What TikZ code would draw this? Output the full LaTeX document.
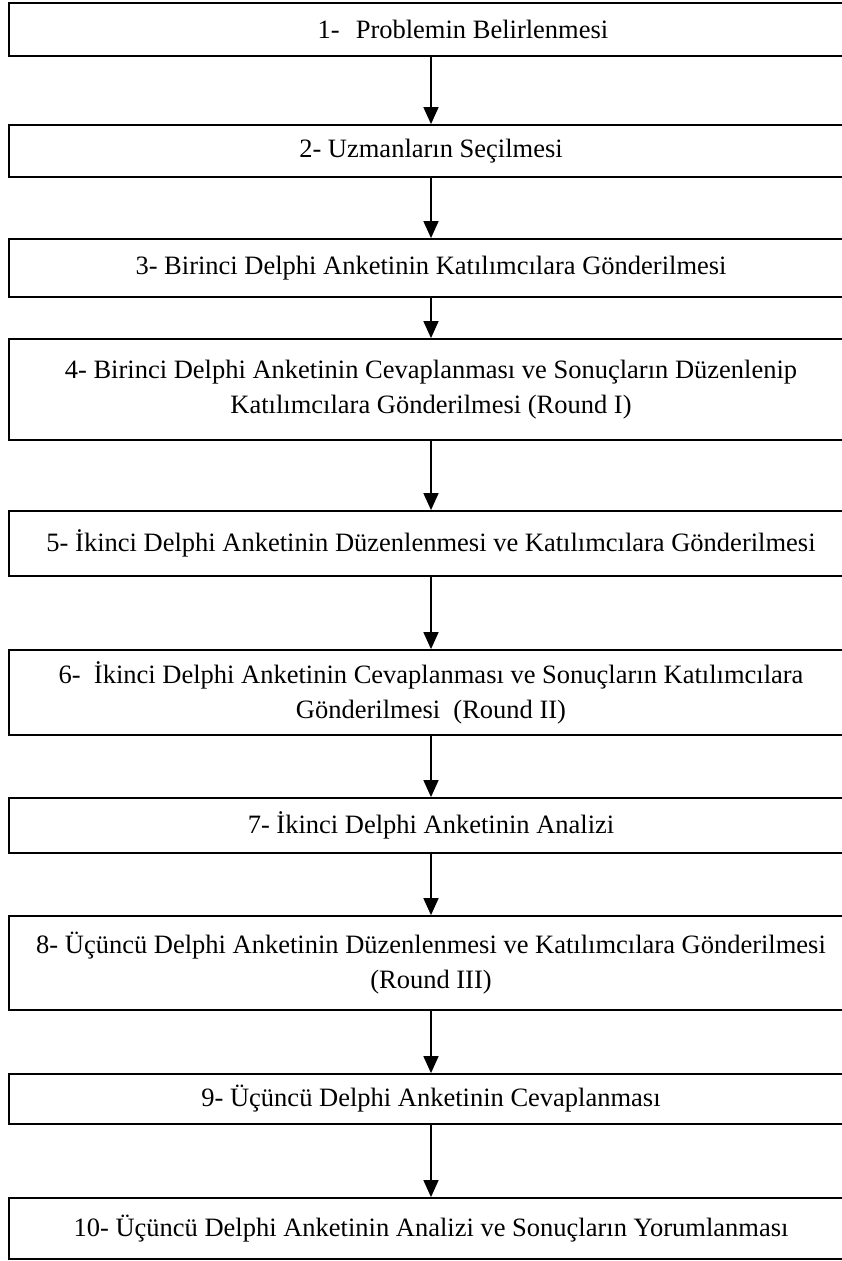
\documentclass[tikz,border=0pt]{standalone}
\usepackage{fontspec}
\setmainfont{Liberation Serif}
\usetikzlibrary{arrows.meta}
\begin{document}
\begin{tikzpicture}[x=1pt,y=-1pt,
  stepbox/.style={draw, line width=1.8pt, minimum width=844pt, inner sep=0pt,
    align=center, font=\fontsize{26.5pt}{35pt}\selectfont},
  flow/.style={line width=1.6pt, -{Triangle[width=15pt,length=17pt]}}]
\useasboundingbox (0,0) rectangle (842,1261);
\fill[white] (0,0) rectangle (842,1261);
\clip (0,0) rectangle (842,1261);

% the ten steps, top to bottom
\node[stepbox, minimum height=53pt] (s1) at (431,29.5)
  {\hspace*{64pt}1-\hspace{16pt}Problemin Belirlenmesi};
\node[stepbox, minimum height=52pt] (s2) at (431,151)
  {2- Uzmanların Seçilmesi};
\node[stepbox, minimum height=58pt] (s3) at (431,268)
  {3- Birinci Delphi Anketinin Katılımcılara Gönderilmesi};
\node[stepbox, minimum height=101pt] (s4) at (431,389.5)
  {4- Birinci Delphi Anketinin Cevaplanması ve Sonuçların Düzenlenip\\
   Katılımcılara Gönderilmesi (Round I)};
\node[stepbox, minimum height=65pt] (s5) at (431,543.5)
  {5- İkinci Delphi Anketinin Düzenlenmesi ve Katılımcılara Gönderilmesi};
\node[stepbox, minimum height=85pt] (s6) at (431,692.5)
  {6-\ \ İkinci Delphi Anketinin Cevaplanması ve Sonuçların Katılımcılara\\
   Gönderilmesi\ \ (Round II)};
\node[stepbox, minimum height=55pt] (s7) at (431,825.5)
  {7- İkinci Delphi Anketinin Analizi};
\node[stepbox, minimum height=94pt] (s8) at (431,963)
  {8- Üçüncü Delphi Anketinin Düzenlenmesi ve Katılımcılara Gönderilmesi\\
   (Round III)};
\node[stepbox, minimum height=50pt] (s9) at (431,1099)
  {9- Üçüncü Delphi Anketinin Cevaplanması};
\node[stepbox, minimum height=61pt] (s10) at (431,1228.5)
  {10- Üçüncü Delphi Anketinin Analizi ve Sonuçların Yorumlanması};

% arrows between consecutive steps
\foreach \a/\b in {s1/s2,s2/s3,s3/s4,s4/s5,s5/s6,s6/s7,s7/s8,s8/s9,s9/s10}
  \draw[flow] (\a.south) -- (\b.north);
\end{tikzpicture}
\end{document}
